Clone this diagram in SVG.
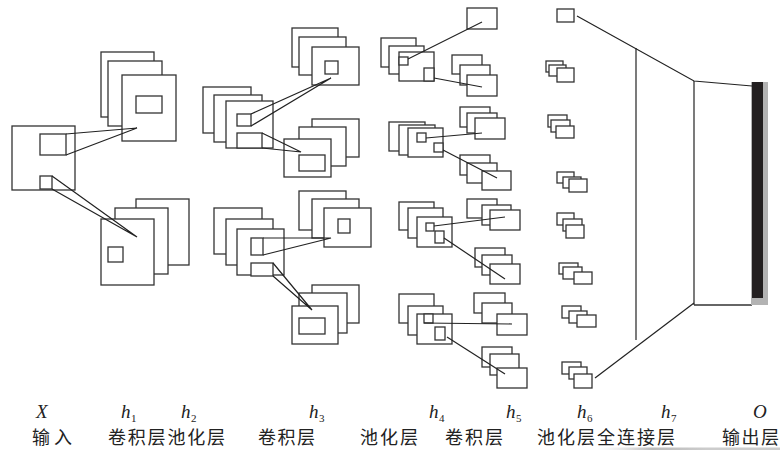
<svg xmlns="http://www.w3.org/2000/svg" width="780" height="450" viewBox="0 0 780 450">
<defs>
<style>
.r{fill:#fff;stroke:#333;stroke-width:1.3}
.c{fill:none;stroke:#222;stroke-width:1.2}
.v{fill:none;stroke:#333;stroke-width:1.3}
.it{font-family:"Liberation Serif",serif;font-style:italic;font-size:19px;fill:#222}
.sb{font-family:"Liberation Serif",serif;font-size:11px;fill:#222}
.cn{font-family:"Liberation Sans","Noto Sans CJK SC",sans-serif;font-size:18px;fill:#222}
</style>
<linearGradient id="smudge" x1="0" x2="1" y1="0" y2="0">
<stop offset="0" stop-color="#ddd" stop-opacity="0"/>
<stop offset="0.3" stop-color="#bbb"/>
<stop offset="0.6" stop-color="#ccc"/>
<stop offset="1" stop-color="#ccc"/>
</linearGradient>
</defs>
<rect width="780" height="450" fill="#fff"/>

<g id="input">
<rect class="r" x="12" y="126" width="63" height="64"/>
<rect class="r" x="40" y="134" width="26" height="21"/>
<rect class="r" x="40" y="176" width="12" height="13"/>
</g>

<g id="h1-top">
<rect class="r" x="101" y="52" width="53" height="65"/>
<rect class="r" x="108" y="61" width="54" height="65"/>
<rect class="r" x="122" y="75" width="54" height="66"/>
<rect class="r" x="136" y="96" width="26" height="17"/>
</g>
<g id="h1-bottom">
<rect class="r" x="136" y="199" width="53" height="66"/>
<rect class="r" x="115" y="208" width="53" height="66"/>
<rect class="r" x="101" y="219" width="53" height="66"/>
<rect class="r" x="108" y="247" width="15" height="15"/>
</g>

<g id="h2-top">
<rect class="r" x="203" y="87" width="48" height="46"/>
<rect class="r" x="214" y="95" width="48" height="47"/>
<rect class="r" x="226" y="101" width="47" height="47"/>
<rect class="r" x="237" y="114" width="14" height="12"/>
<rect class="r" x="237" y="133" width="25" height="15"/>
</g>
<g id="h2-bottom">
<rect class="r" x="214" y="208" width="48" height="46"/>
<rect class="r" x="226" y="219" width="47" height="46"/>
<rect class="r" x="237" y="229" width="47" height="46"/>
<rect class="r" x="251" y="238" width="12" height="17"/>
<rect class="r" x="251" y="263" width="22" height="13"/>
</g>

<g id="h3-1">
<rect class="r" x="292" y="28" width="46" height="39"/>
<rect class="r" x="299" y="37" width="47" height="38"/>
<rect class="r" x="312" y="47" width="47" height="38"/>
<rect class="r" x="325" y="61" width="13" height="13"/>
</g>
<g id="h3-2">
<rect class="r" x="312" y="119" width="47" height="38"/>
<rect class="r" x="299" y="127" width="47" height="39"/>
<rect class="r" x="284" y="139" width="47" height="38"/>
<rect class="r" x="299" y="155" width="26" height="16"/>
</g>
<g id="h3-3">
<rect class="r" x="299" y="191" width="47" height="39"/>
<rect class="r" x="312" y="199" width="47" height="39"/>
<rect class="r" x="324" y="208" width="47" height="39"/>
<rect class="r" x="338" y="219" width="12" height="14"/>
</g>
<g id="h3-4">
<rect class="r" x="312" y="285" width="47" height="38"/>
<rect class="r" x="299" y="293" width="48" height="40"/>
<rect class="r" x="292" y="306" width="46" height="38"/>
<rect class="r" x="299" y="318" width="26" height="16"/>
</g>

<g id="h4-1">
<rect class="r" x="381" y="38" width="35" height="29"/>
<rect class="r" x="389" y="46" width="35" height="28"/>
<rect class="r" x="399" y="52" width="35" height="29"/>
<rect class="r" x="399" y="57" width="9" height="8"/>
<rect class="r" x="424" y="68" width="10" height="13"/>
</g>
<g id="h4-2">
<rect class="r" x="389" y="122" width="36" height="29"/>
<rect class="r" x="399" y="125" width="36" height="30"/>
<rect class="r" x="408" y="128" width="35" height="29"/>
<rect class="r" x="417" y="133" width="9" height="9"/>
<rect class="r" x="434" y="143" width="9" height="9"/>
</g>
<g id="h4-3">
<rect class="r" x="399" y="202" width="35" height="28"/>
<rect class="r" x="408" y="208" width="35" height="30"/>
<rect class="r" x="417" y="217" width="35" height="30"/>
<rect class="r" x="426" y="223" width="8" height="8"/>
<rect class="r" x="435" y="231" width="9" height="12"/>
</g>
<g id="h4-4">
<rect class="r" x="399" y="294" width="35" height="29"/>
<rect class="r" x="408" y="306" width="35" height="29"/>
<rect class="r" x="417" y="314" width="35" height="30"/>
<rect class="r" x="424" y="314" width="9" height="9"/>
<rect class="r" x="435" y="327" width="10" height="13"/>
</g>

<g id="h5-1"><rect class="r" x="467" y="8" width="30" height="21"/></g>
<g id="h5-2">
<rect class="r" x="452" y="55" width="30" height="19"/>
<rect class="r" x="460" y="65" width="30" height="20"/>
<rect class="r" x="467" y="75" width="30" height="21"/>
</g>
<g id="h5-3">
<rect class="r" x="460" y="107" width="30" height="20"/>
<rect class="r" x="467" y="113" width="30" height="20"/>
<rect class="r" x="475" y="118" width="30" height="21"/>
</g>
<g id="h5-4">
<rect class="r" x="460" y="155" width="30" height="20"/>
<rect class="r" x="467" y="163" width="30" height="20"/>
<rect class="r" x="482" y="171" width="29" height="19"/>
</g>
<g id="h5-5">
<rect class="r" x="467" y="199" width="30" height="19"/>
<rect class="r" x="482" y="205" width="29" height="20"/>
<rect class="r" x="490" y="210" width="30" height="20"/>
</g>
<g id="h5-6">
<rect class="r" x="475" y="248" width="30" height="19"/>
<rect class="r" x="482" y="255" width="30" height="20"/>
<rect class="r" x="490" y="264" width="30" height="20"/>
</g>
<g id="h5-7">
<rect class="r" x="474" y="293" width="31" height="20"/>
<rect class="r" x="482" y="303" width="30" height="20"/>
<rect class="r" x="497" y="314" width="30" height="21"/>
</g>
<g id="h5-8">
<rect class="r" x="482" y="347" width="30" height="20"/>
<rect class="r" x="490" y="354" width="29" height="21"/>
<rect class="r" x="497" y="368" width="30" height="20"/>
</g>

<g id="h6-1"><rect class="r" x="557" y="9" width="17" height="13"/></g>
<g id="h6-2">
<rect class="r" x="546" y="61" width="17" height="11"/>
<rect class="r" x="549" y="65" width="17" height="11"/>
<rect class="r" x="557" y="68" width="17" height="14"/>
</g>
<g id="h6-3">
<rect class="r" x="548" y="115" width="19" height="12"/>
<rect class="r" x="551" y="120" width="19" height="12"/>
<rect class="r" x="556" y="126" width="18" height="12"/>
</g>
<g id="h6-4">
<rect class="r" x="557" y="172" width="17" height="11"/>
<rect class="r" x="563" y="177" width="18" height="11"/>
<rect class="r" x="569" y="179" width="18" height="13"/>
</g>
<g id="h6-5">
<rect class="r" x="557" y="213" width="17" height="12"/>
<rect class="r" x="563" y="219" width="19" height="12"/>
<rect class="r" x="566" y="225" width="18" height="13"/>
</g>
<g id="h6-6">
<rect class="r" x="559" y="263" width="19" height="11"/>
<rect class="r" x="563" y="267" width="19" height="12"/>
<rect class="r" x="574" y="272" width="18" height="12"/>
</g>
<g id="h6-7">
<rect class="r" x="562" y="306" width="19" height="12"/>
<rect class="r" x="569" y="311" width="18" height="12"/>
<rect class="r" x="577" y="315" width="19" height="12"/>
</g>
<g id="h6-8">
<rect class="r" x="562" y="362" width="19" height="12"/>
<rect class="r" x="569" y="367" width="18" height="12"/>
<rect class="r" x="574" y="374" width="18" height="14"/>
</g>

<g id="h7">
<line class="v" x1="636" y1="48" x2="636" y2="340"/>
</g>

<g id="output">
<line class="v" x1="694" y1="81" x2="694" y2="305"/>
<line class="v" x1="694" y1="305" x2="752" y2="305"/>
<rect x="751" y="82" width="17" height="223" fill="#b3b3b3"/>
<rect x="752" y="82" width="11" height="216" fill="#231f20"/>
</g>

<g id="connectors">
<path class="c" d="M66,134 L137,128 L66,155"/>
<path class="c" d="M52,176 L137,237 L52,189"/>
<path class="c" d="M251,114 L331,78 L251,126"/>
<path class="c" d="M262,133 L301,152 L262,148"/>
<path class="c" d="M263,238 L331,238 L263,255"/>
<path class="c" d="M273,263 L312,310 L273,276"/>
<line class="c" x1="408" y1="59" x2="482" y2="22"/>
<line class="c" x1="434" y1="78" x2="482" y2="87"/>
<line class="c" x1="426" y1="138" x2="482" y2="133"/>
<line class="c" x1="443" y1="150" x2="497" y2="178"/>
<line class="c" x1="434" y1="226" x2="505" y2="217"/>
<line class="c" x1="444" y1="238" x2="505" y2="279"/>
<line class="c" x1="424" y1="323" x2="512" y2="324"/>
<line class="c" x1="447" y1="337" x2="505" y2="374"/>
<polyline class="c" points="577,16 694,81 752,86"/>
<line class="c" x1="595" y1="378" x2="694" y2="303"/>
</g>

<g id="labels">
<text class="it" x="36" y="418">X</text>
<text class="it" x="121" y="418">h</text><text class="sb" x="131" y="422">1</text>
<text class="it" x="181" y="418">h</text><text class="sb" x="191" y="422">2</text>
<text class="it" x="309" y="418">h</text><text class="sb" x="319" y="422">3</text>
<text class="it" x="429" y="418">h</text><text class="sb" x="439" y="422">4</text>
<text class="it" x="506" y="418">h</text><text class="sb" x="516" y="422">5</text>
<text class="it" x="577" y="418">h</text><text class="sb" x="587" y="422">6</text>
<text class="it" x="661" y="418">h</text><text class="sb" x="671" y="422">7</text>
<text class="it" x="753" y="418">O</text>
<text class="cn" x="32" y="444" textLength="40" lengthAdjust="spacing">输入</text>
<text class="cn" x="108" y="444" textLength="117" lengthAdjust="spacing">卷积层池化层</text>
<text class="cn" x="258" y="444" textLength="57" lengthAdjust="spacing">卷积层</text>
<text class="cn" x="360" y="444" textLength="58" lengthAdjust="spacing">池化层</text>
<text class="cn" x="445" y="444" textLength="58" lengthAdjust="spacing">卷积层</text>
<text class="cn" x="537" y="444" textLength="138" lengthAdjust="spacing">池化层全连接层</text>
<text class="cn" x="722" y="444" textLength="57" lengthAdjust="spacing">输出层</text>
</g>
<rect x="597" y="447.5" width="183" height="2.5" fill="url(#smudge)"/>
</svg>
